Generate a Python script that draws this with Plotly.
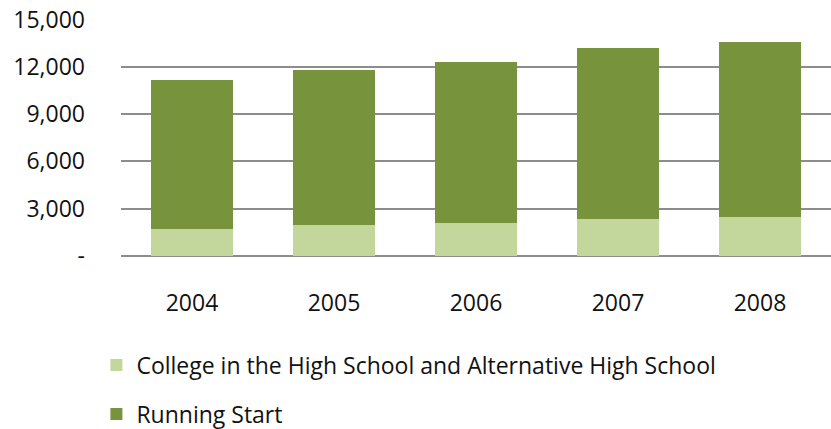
import plotly.graph_objects as go

years = ["2004", "2005", "2006", "2007", "2008"]
college_hs = [1710, 1945, 2090, 2325, 2450]
running_start = [9440, 9840, 10200, 10855, 11110]

tick_vals = [0, 3000, 6000, 9000, 12000, 15000]
tick_text = ["-", "3,000", "6,000", "9,000", "12,000", "15,000"]

FONT = "Open Sans"
fig = go.Figure()
fig.add_trace(go.Bar(x=years, y=college_hs, name="College in the High School and Alternative High School",
                     marker=dict(color="#C3D69B", line=dict(width=0)), legendgroup="a"))
fig.add_trace(go.Bar(x=years, y=running_start, name="Running Start",
                     marker=dict(color="#77933C", line=dict(width=0)), legendgroup="b"))

fig.update_layout(
    width=831, height=429,
    barmode="stack", bargap=0.42,
    paper_bgcolor="white", plot_bgcolor="white",
    margin=dict(l=121, r=0, t=19, b=173, autoexpand=False),
    font=dict(family=FONT, size=23, color="#111111"),
    showlegend=True,
    legend=dict(xref="container", yref="container", x=0.116, y=0.199, xanchor="left", yanchor="top",
                traceorder="grouped", tracegroupgap=16, font=dict(size=23),
                bgcolor="rgba(0,0,0,0)"),
    xaxis=dict(showgrid=False, showline=False, ticks="", ticklabelstandoff=31,
               tickfont=dict(size=23), tickangle=0),
    yaxis=dict(range=[0, 15030], tickvals=tick_vals, ticktext=tick_text,
               showgrid=True, gridcolor="#8c8c8c", gridwidth=1.5,
               zeroline=True, zerolinecolor="#8c8c8c", zerolinewidth=1.5,
               showline=False, ticks="", ticklabelstandoff=35, tickfont=dict(size=23)),
)
fig.write_html("out.html", config={"displayModeBar": False},
               post_script="document.body.style.margin='0';")
